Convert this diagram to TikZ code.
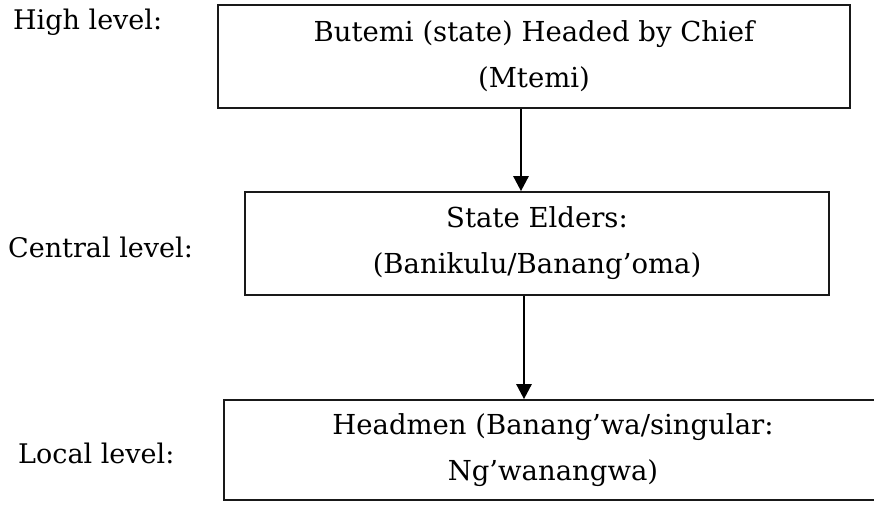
\documentclass[tikz,border=0pt]{standalone}
\usepackage{fontspec}
\setmainfont{DejaVu Serif}
\usetikzlibrary{arrows.meta}
\begin{document}
\begin{tikzpicture}[x=1pt,y=-1pt,
  box/.style={draw=black!90, line width=1.7pt, rectangle, align=center, inner sep=0pt,
    font=\fontsize{27.5}{46}\selectfont},
  lvl/.style={font=\fontsize{27}{32}\selectfont, anchor=west, inner sep=0pt},
  arr/.style={line width=2.6pt, -{Triangle[length=15pt,width=15pt]}}]
\useasboundingbox (0,0) rectangle (874,506);
\fill[white] (0,0) rectangle (874,506);
\node[box, minimum width=632pt, minimum height=103pt] (top) at (534,56.5)
  {Butemi (state) Headed by Chief\\(Mtemi)};
\node[box, minimum width=584pt, minimum height=103pt] (mid) at (537,243.5)
  {State Elders:\\(Banikulu/Banang’oma)};
\node[box, minimum width=658pt, minimum height=100pt] (bot) at (553,450)
  {Headmen (Banang’wa/singular:\\Ng’wanangwa)};
\node[lvl] (l1) at (13,22) {High level:};
\node[lvl] (l2) at (8,247) {Central level:};
\node[lvl] (l3) at (18,453) {Local level:};
\coordinate (a1) at (521,0);
\coordinate (a2) at (524,0);
\draw[arr] (a1 |- top.south) -- (a1 |- mid.north);
\draw[arr] (a2 |- mid.south) -- (a2 |- bot.north);
\end{tikzpicture}
\end{document}
